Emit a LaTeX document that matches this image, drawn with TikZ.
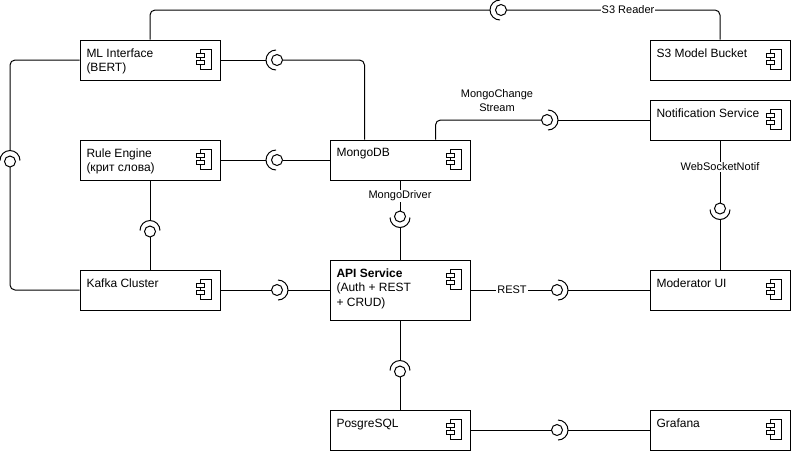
\documentclass[tikz,border=0pt]{standalone}
\usepackage{fontspec}
\setmainfont{Liberation Sans}
\usetikzlibrary{calc}
\begin{document}
\begin{tikzpicture}[x=1pt,y=-1pt,line width=1pt,
  box/.style={draw,rectangle,inner sep=0pt,minimum width=140pt,minimum height=40pt},
  btxt/.style={anchor=north west,inner sep=0pt,align=left,font=\fontsize{12}{14.5}\selectfont},
  lbl/.style={font=\fontsize{11}{14}\selectfont,inner sep=1pt,fill=white,align=center},
  rc/.style={rounded corners=5pt},
  pics/iface/.style={code={
    \pgfmathsetmacro\IFangA{#1-90}\pgfmathsetmacro\IFangB{#1+90}
    \draw (0,0) circle[radius=5.5];
    \draw (#1:1) ++(\IFangA:10) arc[start angle=\IFangA,end angle=\IFangB,radius=10];
  }},
  pics/cicon/.style={code={
    \draw (-20,10) rectangle (-9.5,30);
    \draw[fill=white] (-24.5,13.5) rectangle (-16.5,17.5);
    \draw[fill=white] (-24.5,21) rectangle (-16.5,25);
  }}
]
\path[use as bounding box,fill=white] (0,0) rectangle (791,451);

% boxes
\node[box] (ml) at (150,60) {};
\node[box] (s3) at (720,60) {};
\node[box] (rule) at (150,160) {};
\node[box] (mongo) at (400,160) {};
\node[box] (notif) at (720,120) {};
\node[box] (kafka) at (150,290) {};
\node[box,minimum height=60pt] (api) at (400,290) {};
\node[box] (mod) at (720,290) {};
\node[box] (pg) at (400,430) {};
\node[box] (graf) at (720,430) {};

\foreach \b in {ml,s3,rule,mongo,notif,kafka,api,mod,pg,graf}{\pic at (\b.north east) {cicon};}

\node[btxt] (mlT) at ($(ml.north west)+(6.5,8.7)$) {ML Interface\\(BERT)};
\node[btxt] (s3T) at ($(s3.north west)+(6.5,8.7)$) {S3 Model Bucket};
\node[btxt] (ruleT) at ($(rule.north west)+(6.5,8.7)$) {Rule Engine\\(крит слова)};
\node[btxt] (mongoT) at ($(mongo.north west)+(6.5,8.7)$) {MongoDB};
\node[btxt] (notifT) at ($(notif.north west)+(6.5,8.7)$) {Notification Service};
\node[btxt] (kafkaT) at ($(kafka.north west)+(6.5,8.7)$) {Kafka Cluster};
\node[btxt] (apiT) at ($(api.north west)+(6.5,8.7)$) {\textbf{API Service}\\(Auth + REST\\+ CRUD)};
\node[btxt] (modT) at ($(mod.north west)+(6.5,8.7)$) {Moderator UI};
\node[btxt] (pgT) at ($(pg.north west)+(6.5,8.7)$) {PosgreSQL};
\node[btxt] (grafT) at ($(graf.north west)+(6.5,8.7)$) {Grafana};

% interfaces
\coordinate (i1) at (501,10);    \pic at (i1) {iface=180};
\coordinate (i2) at (277,60);    \pic at (i2) {iface=180};
\coordinate (i3) at (277,160);   \pic at (i3) {iface=180};
\coordinate (i4) at (10,161.5);  \pic at (i4) {iface=270};
\coordinate (i5) at (150,231.5); \pic at (i5) {iface=270};
\coordinate (i6) at (277,290);   \pic at (i6) {iface=0};
\coordinate (i7) at (400,216.5); \pic at (i7) {iface=90};
\coordinate (i8) at (547,120);   \pic at (i8) {iface=0};
\coordinate (i9) at (720,208.5); \pic at (i9) {iface=90};
\coordinate (i10) at (557,290);  \pic at (i10) {iface=0};
\coordinate (i11) at (400,371.5); \pic at (i11) {iface=270};
\coordinate (i12) at (557,430);  \pic at (i12) {iface=0};

% connectors
\draw[rc] (ml.north) |- ($(i1)+(-11,0)$);
\draw[rc] ($(i1)+(5.5,0)$) -| (s3.north);
\draw (ml.east) -- ($(i2)+(-11,0)$);
\draw[rc] ($(i2)+(5.5,0)$) -| ($(mongo.north west)+(35,0)$);
\draw (rule.east) -- ($(i3)+(-11,0)$);
\draw ($(i3)+(5.5,0)$) -- (mongo.west);
\draw[rc] (ml.west) -| ($(i4)+(0,-11)$);
\draw[rc] ($(i4)+(0,5.5)$) |- (kafka.west);
\draw (rule.south) -- ($(i5)+(0,-11)$);
\draw ($(i5)+(0,5.5)$) -- (kafka.north);
\draw (kafka.east) -- ($(i6)+(-5.5,0)$);
\draw ($(i6)+(11,0)$) -- (api.west);
\draw (mongo.south) -- ($(i7)+(0,-5.5)$);
\draw ($(i7)+(0,11)$) -- (api.north);
\draw[rc] ($(mongo.north west)+(106,0)$) |- ($(i8)+(-5.5,0)$);
\draw ($(i8)+(11,0)$) -- (notif.west);
\draw (notif.south) -- ($(i9)+(0,-5.5)$);
\draw ($(i9)+(0,11)$) -- (mod.north);
\draw (api.east) -- ($(i10)+(-5.5,0)$);
\draw ($(i10)+(11,0)$) -- (mod.west);
\draw (api.south) -- ($(i11)+(0,-11)$);
\draw ($(i11)+(0,5.5)$) -- (pg.north);
\draw (pg.east) -- ($(i12)+(-5.5,0)$);
\draw ($(i12)+(11,0)$) -- (graf.west);

% labels
\node[lbl] (lS3) at (628,10) {S3 Reader};
\node[lbl,fill=none] (lMCS) at (497,101) {MongoChange\\Stream};
\node[lbl] (lMD) at (400,196) {MongoDriver};
\node[lbl] (lWS) at (720,167) {WebSocketNotif};
\node[lbl] (lREST) at (512,290) {REST};
\end{tikzpicture}
\end{document}
